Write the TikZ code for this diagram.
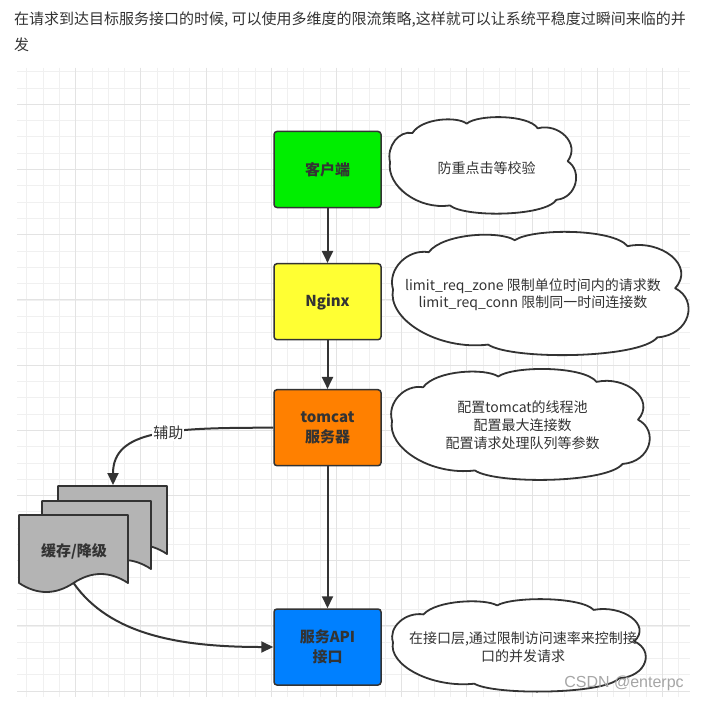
\documentclass[tikz,border=0pt]{standalone}
\usepackage{fontspec}
\setmainfont{Noto Sans CJK SC}
\newfontfamily\markfont{Liberation Sans}
\usetikzlibrary{arrows.meta}

\definecolor{linec}{RGB}{51,51,51}
\definecolor{textc}{RGB}{51,51,51}
\definecolor{clientc}{RGB}{0,238,0}
\definecolor{nginxc}{RGB}{255,255,51}
\definecolor{tomcatc}{RGB}{255,128,0}
\definecolor{apic}{RGB}{0,128,255}
\definecolor{docc}{RGB}{180,180,180}

% cloud outline, fitted into the box x,y,w,h
\newcommand\drawcloud[4]{%
  \begin{scope}[shift={(#1,#2)},xscale=#3,yscale=#4]
    \draw[cloudline] (0,0.47) .. controls (-0.02,0.30) and (0.05,0.13) .. (0.12,0.16)
      .. controls (0.17,0.0) and (0.36,-0.02) .. (0.41,0.06)
      .. controls (0.47,-0.04) and (0.74,-0.04) .. (0.79,0.11)
      .. controls (0.90,0.05) and (1.02,0.27) .. (0.95,0.46)
      .. controls (1.03,0.56) and (1.0,0.85) .. (0.89,0.87)
      .. controls (0.83,1.05) and (0.40,1.06) .. (0.32,0.93)
      .. controls (0.15,0.98) and (-0.02,0.72) .. (0,0.47) -- cycle;
  \end{scope}}

\begin{document}
\begin{tikzpicture}[x=1pt, y=-1pt,
    box/.style={draw=linec, line width=1.5pt, rounded corners=3pt,
      minimum width=107pt, minimum height=76pt, align=center, text=textc,
      font=\fontsize{15}{20}\selectfont\bfseries},
    arr/.style={draw=linec, line width=2pt, -{Triangle[length=12pt,width=11pt]}},
    note/.style={text=textc, align=center, font=\fontsize{14}{18}\selectfont},
    cloudline/.style={draw=linec, line width=1.8pt, fill=white, line join=round},
    doc/.style={draw=linec, line width=1.8pt, fill=docc, line join=round},
    gridline/.style={draw=black!6, line width=0.8pt},
    gridmajor/.style={draw=black!11, line width=0.9pt}]
  \fill[white] (0,0) rectangle (708,703);
  \useasboundingbox (0,0) rectangle (708,703);

  % background grid
  \foreach \i in {1,...,41} \draw[gridline] ({10.4+16.3*\i},68) -- ({10.4+16.3*\i},697);
  \foreach \j in {0,...,38} \draw[gridline] (17,{71.7+16.3*\j}) -- (690,{71.7+16.3*\j});
  \foreach \i in {4,8,...,40} \draw[gridmajor] ({10.4+16.3*\i},68) -- ({10.4+16.3*\i},697);
  \foreach \j in {2,6,...,38} \draw[gridmajor] (17,{71.7+16.3*\j}) -- (690,{71.7+16.3*\j});

  \node[anchor=base west, inner sep=0, text=textc, font=\fontsize{15}{20}\selectfont] (title1) at (14,24.7)
    {在请求到达目标服务接口的时候, 可以使用多维度的限流策略,这样就可以让系统平稳度过瞬间来临的并};
  \node[anchor=base west, inner sep=0, text=textc, font=\fontsize{15}{20}\selectfont] (title2) at (14,50.7) {发};

  \node[box, fill=clientc] (client) at (327.5,169.5) {客户端};
  \node[box, fill=nginxc] (nginx) at (327.5,301.7) {Nginx};
  \node[box, fill=tomcatc] (tomcat) at (327.5,427.7) {tomcat\\服务器};
  \node[box, fill=apic] (api) at (327.5,647) {服务API\\接口};

  % stacked documents
  \foreach \dx/\dy in {58/486, 42/501, 19/515}
    \draw[doc] (\dx,\dy) -- ({\dx+109},\dy) -- ({\dx+109},{\dy+68})
      .. controls ({\dx+90.8},{\dy+56}) and ({\dx+72.7},{\dy+56}) .. ({\dx+54.5},{\dy+68})
      .. controls ({\dx+36.3},{\dy+80}) and ({\dx+18.2},{\dy+80}) .. (\dx,{\dy+68}) -- cycle;
  \node[text=textc, font=\fontsize{15}{20}\selectfont\bfseries] (cache) at (74,551) {缓存/降级};
  \coordinate (cachetop) at (113,485);
  \coordinate (cachebot) at (73.5,583);

  \draw[arr] (client) -- (nginx);
  \draw[arr] (nginx) -- (tomcat);
  \draw[arr] (tomcat) -- (api);
  \draw[arr] (tomcat.west) .. controls (170,427.7) and (113,430) .. (cachetop)
    node[pos=0.42, fill=white, inner sep=1pt, text=textc, font=\fontsize{15}{20}\selectfont] (aux) {辅助};
  \draw[arr] (cachebot) .. controls (110,635) and (180,647) .. (api.west);

  % notes
  \drawcloud{390}{118}{187}{94}
  \node[note] (clicknote) at (486.7,168.3) {防重点击等校验};
  \drawcloud{393}{233}{297}{120}
  \node[note, font=\fontsize{14}{17}\selectfont] (nginxnote) at (533,295)
    {limit\_req\_zone 限制单位时间内的请求数\\limit\_req\_conn 限制同一时间连接数};
  \drawcloud{392}{370}{259}{108}
  \node[note] (poolnote) at (522.5,425) {配置tomcat的线程池\\配置最大连接数\\配置请求处理队列等参数};
  \drawcloud{393}{600}{254}{90}
  \node[note] (ratenote) at (523,647.5) {在接口层,通过限制访问速率来控制接\\口的并发请求};

  \node[text=black!35, font=\markfont\fontsize{16}{16}\selectfont] (mark) at (624,683) {CSDN @enterpc};
\end{tikzpicture}
\end{document}
